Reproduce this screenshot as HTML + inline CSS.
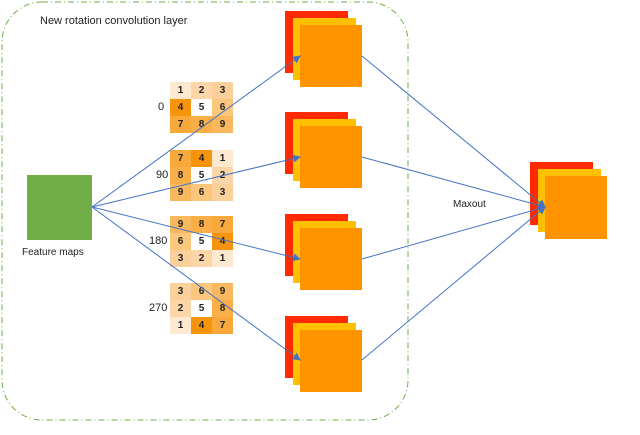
<!DOCTYPE html><html><head><style>
body{margin:0;width:640px;height:435px;background:#fff;font-family:"Liberation Sans",sans-serif;overflow:hidden;position:relative}
.a{position:absolute}
.g{position:absolute;display:grid;grid-template-columns:21px 21px 21px;grid-auto-rows:17px;font-size:10px;font-weight:bold;text-align:center;line-height:17px;color:#222}
.l{position:absolute;font-size:11px;color:#222}
</style></head><body>
<svg class="a" width="640" height="435" style="left:0;top:0">
<rect x="2" y="2" width="406" height="418" rx="40" fill="none" stroke="#70ad47" stroke-width="1" stroke-dasharray="6,3,1,3"/>
<rect x="27" y="175" width="65" height="65" fill="#70ad47"/>
<g id="s">
<rect x="285" y="11" width="63" height="62" fill="#ff2a00"/>
<rect x="293" y="18" width="63" height="62" fill="#ffc000"/>
<rect x="300" y="25" width="62" height="62" fill="#ff9400"/>
</g>
<use href="#s" y="101"/><use href="#s" y="203"/><use href="#s" y="305"/>
<rect x="530" y="162" width="63" height="63" fill="#ff2a00"/>
<rect x="538" y="169" width="63" height="63" fill="#ffc000"/>
<rect x="545" y="176" width="62" height="63" fill="#ff9400"/>
</svg>
<div class="l" style="left:40px;top:15px">New rotation convolution layer</div>
<div class="l" style="left:22px;top:247px;font-size:10px">Feature maps</div>
<div class="l" style="left:453px;top:199px;font-size:10px">Maxout</div>
<div class="l" style="left:158px;top:101px">0</div>
<div class="l" style="left:156px;top:169px">90</div>
<div class="l" style="left:149px;top:235px">180</div>
<div class="l" style="left:149px;top:302px">270</div>
<div class="g" style="left:170px;top:82px">
<div style="background:#fde8d0">1</div><div style="background:#fcd6a8">2</div><div style="background:#fbd09a">3</div>
<div style="background:#f7940e">4</div><div style="background:#fff">5</div><div style="background:#fbc77c">6</div>
<div style="background:#f9a83c">7</div><div style="background:#f9ae48">8</div><div style="background:#fab85e">9</div></div>
<div class="g" style="left:170px;top:150px">
<div style="background:#f9a83c">7</div><div style="background:#f7940e">4</div><div style="background:#fde8d0">1</div>
<div style="background:#f9ae48">8</div><div style="background:#fff">5</div><div style="background:#fcd6a8">2</div>
<div style="background:#fab85e">9</div><div style="background:#fbc77c">6</div><div style="background:#fbd09a">3</div></div>
<div class="g" style="left:170px;top:216px">
<div style="background:#fab85e">9</div><div style="background:#f9ae48">8</div><div style="background:#f9a83c">7</div>
<div style="background:#fbc77c">6</div><div style="background:#fff">5</div><div style="background:#f7940e">4</div>
<div style="background:#fbd09a">3</div><div style="background:#fcd6a8">2</div><div style="background:#fde8d0">1</div></div>
<div class="g" style="left:170px;top:283px">
<div style="background:#fbd09a">3</div><div style="background:#fbc77c">6</div><div style="background:#fab85e">9</div>
<div style="background:#fcd6a8">2</div><div style="background:#fff">5</div><div style="background:#f9ae48">8</div>
<div style="background:#fde8d0">1</div><div style="background:#f7940e">4</div><div style="background:#f9a83c">7</div></div>
<svg class="a" width="640" height="435" style="left:0;top:0">
<defs><marker id="m" markerWidth="8" markerHeight="8" refX="7" refY="4" orient="auto" markerUnits="userSpaceOnUse"><path d="M0,0 L8,4 L0,8 z" fill="#4472c4"/></marker></defs>
<g stroke="#4472c4" stroke-width="1" fill="none" marker-end="url(#m)">
<line x1="92" y1="207" x2="300" y2="56"/>
<line x1="92" y1="207" x2="300" y2="157"/>
<line x1="92" y1="207" x2="300" y2="259"/>
<line x1="92" y1="207" x2="300" y2="360"/>
<line x1="362" y1="56" x2="545" y2="207"/>
<line x1="362" y1="157" x2="545" y2="207"/>
<line x1="362" y1="259" x2="545" y2="207"/>
<line x1="362" y1="360" x2="545" y2="207"/>
</g>
</svg>
</body></html>
